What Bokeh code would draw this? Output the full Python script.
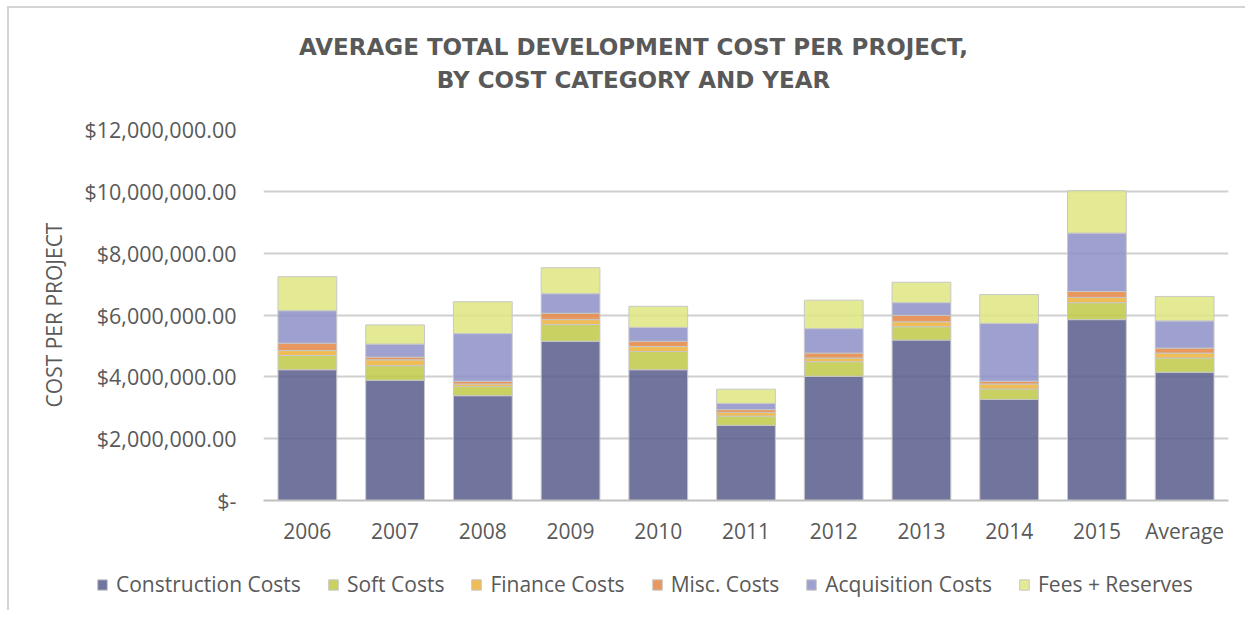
from bokeh.plotting import figure
from bokeh.models import FactorRange, Range1d, FixedTicker, NumeralTickFormatter, Legend, LegendItem
from bokeh.layouts import column
from bokeh.core.properties import value
from bokeh.embed import file_html
from bokeh.resources import INLINE

years = ["2006", "2007", "2008", "2009", "2010", "2011", "2012", "2013", "2014", "2015", "Average"]
construction = [4230000, 3890000, 3390000, 5150000, 4230000, 2430000, 4020000, 5190000, 3270000, 5850000, 4150000]
soft = [460000, 470000, 300000, 540000, 590000, 300000, 470000, 430000, 340000, 550000, 460000]
finance = [160000, 190000, 80000, 160000, 160000, 120000, 120000, 160000, 160000, 170000, 160000]
misc = [240000, 90000, 90000, 210000, 170000, 90000, 160000, 210000, 90000, 190000, 160000]
acquisition = [1050000, 420000, 1540000, 630000, 450000, 200000, 790000, 410000, 1870000, 1890000, 880000]
fees = [1100000, 620000, 1030000, 840000, 680000, 460000, 920000, 660000, 930000, 1370000, 790000]
series_keys = ["construction", "soft", "finance", "misc", "acquisition", "fees"]
series_names = ["Construction Costs", "Soft Costs", "Finance Costs", "Misc. Costs", "Acquisition Costs", "Fees + Reserves"]
y_ticks = [0, 2000000, 4000000, 6000000, 8000000, 10000000, 12000000]
zero_label = "$-"
title_lines = ["AVERAGE TOTAL DEVELOPMENT COST PER PROJECT,", "BY COST CATEGORY AND YEAR"]
y_label = "COST PER PROJECT"

colors = ["#585D8C", "#BEC946", "#ECB037", "#E48642", "#8D91C8", "#DEE680"]
TXT = "#595959"
BORDER = "2px solid #D4D4D4"
W = 1236
FRAME_W = 965

data = dict(years=years, construction=construction, soft=soft, finance=finance,
            misc=misc, acquisition=acquisition, fees=fees)

# ---- title strip (its frame is aligned with the chart's frame) ----
pt = figure(width=W, height=100, x_range=Range1d(0, FRAME_W), y_range=Range1d(0, 100),
            output_backend="svg", toolbar_location=None, min_border=0,
            x_axis_location=None, y_axis_location=None)
pt.grid.grid_line_color = None
pt.outline_line_color = None
pt.text(x=[370, 370], y=[62, 29], text=title_lines, text_align="center", text_baseline="middle",
        text_font=value("DejaVu Sans"), text_font_size="23px", text_font_style="bold",
        text_color=TXT)

# ---- main chart ----
p = figure(x_range=FactorRange(*years, range_padding=0), y_range=Range1d(0, 12000000),
           width=W, height=452, output_backend="svg", toolbar_location=None,
           min_border_left=254, min_border_right=17, min_border_bottom=60, min_border_top=21)

rs = p.vbar_stack(series_keys, x="years", width=0.67, source=data, color=colors,
                  fill_alpha=0.85, line_color="#C8C8C8", line_alpha=1.0, line_width=1)

p.outline_line_color = None
p.xgrid.grid_line_color = None
p.ygrid.grid_line_color = "#CFCFCF"
p.ygrid.grid_line_width = 2

p.yaxis.ticker = FixedTicker(ticks=y_ticks)
p.yaxis.formatter = NumeralTickFormatter(format="$0,0.00")
p.yaxis.major_label_overrides = {0: zero_label}
p.yaxis.axis_line_color = None
p.yaxis.major_tick_line_color = None
p.yaxis.major_tick_out = 0
p.yaxis.major_tick_in = 0
p.yaxis.minor_tick_line_color = None
p.yaxis.major_label_standoff = 27
p.yaxis.major_label_text_font = "Open Sans"
p.yaxis.major_label_text_font_size = "21.5px"
p.yaxis.major_label_text_color = TXT
p.yaxis.axis_label = y_label
p.yaxis.axis_label_text_font = "Open Sans"
p.yaxis.axis_label_text_font_size = "21px"
p.yaxis.axis_label_text_font_style = "normal"
p.yaxis.axis_label_text_color = TXT
p.yaxis.axis_label_standoff = 13

p.xaxis.axis_line_color = "#BFBFBF"
p.xaxis.axis_line_width = 2
p.xaxis.major_tick_line_color = None
p.xaxis.major_tick_out = 0
p.xaxis.major_tick_in = 0
p.xaxis.minor_tick_line_color = None
p.xaxis.major_label_standoff = 16
p.xaxis.major_label_text_font = "Open Sans"
p.xaxis.major_label_text_font_size = "21px"
p.xaxis.major_label_text_color = TXT

layout = column(pt, p, spacing=0, margin=(6, 0, 0, 7),
                styles={"border-top": BORDER, "border-left": BORDER})

# ---- legend strip (separate root so its frame spans the full width) ----
pl = figure(width=W, height=50, x_range=Range1d(0, 10), y_range=Range1d(0, 10),
            output_backend="svg", toolbar_location=None, min_border=0,
            x_axis_location=None, y_axis_location=None,
            margin=(0, 0, 0, 7), styles={"border-left": BORDER})
pl.grid.grid_line_color = None
pl.outline_line_color = None
items = []
for name, c in zip(series_names, colors):
    r = pl.vbar(x=[-5], top=[-5], bottom=[-6], width=0.1, fill_color=c, fill_alpha=0.85,
                line_color="#C8C8C8")
    items.append(LegendItem(label=name, renderers=[r]))
lg = Legend(items=items, orientation="horizontal", location=(87, 12))
lg.border_line_color = None
lg.background_fill_alpha = 0
lg.glyph_width = 12
lg.glyph_height = 13
lg.label_standoff = 8
lg.spacing = 26
lg.padding = 0
lg.margin = 0
lg.label_text_font = "Open Sans"
lg.label_text_font_size = "21px"
lg.label_text_color = TXT
pl.add_layout(lg, "center")

open("out.html", "w").write(file_html([layout, pl], INLINE))
